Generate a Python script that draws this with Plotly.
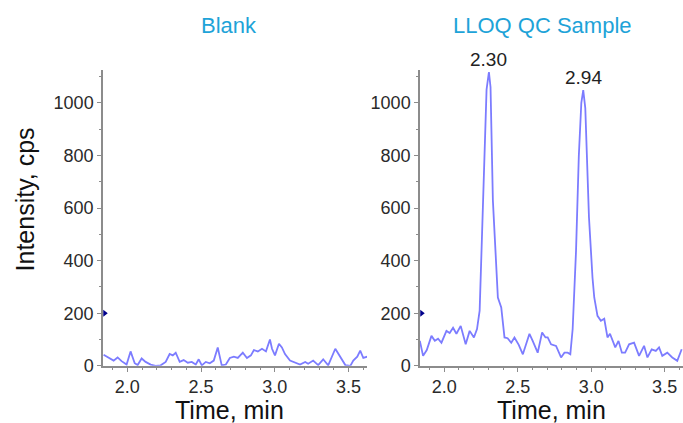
import plotly.graph_objects as go

# ---- data ----
blank_time = [1.839, 1.873, 1.907, 1.934, 1.961, 1.995, 2.022, 2.050, 2.070, 2.097,
              2.124, 2.158, 2.192, 2.226, 2.260, 2.287, 2.308, 2.328, 2.355, 2.382,
              2.410, 2.437, 2.464, 2.484, 2.505, 2.532, 2.559, 2.586, 2.613, 2.640,
              2.668, 2.695, 2.722, 2.749, 2.783, 2.811, 2.838, 2.858, 2.885, 2.913,
              2.940, 2.967, 2.981, 3.001, 3.028, 3.048, 3.069, 3.103, 3.144, 3.171,
              3.206, 3.226, 3.260, 3.294, 3.328, 3.362, 3.410, 3.444, 3.478, 3.512,
              3.532, 3.559, 3.579, 3.600, 3.627]
blank_int = [42, 30, 20, 32, 18, 5, 55, 10, 3, 28,
             15, 5, 0, 2, 15, 45, 40, 50, 15, 22,
             12, 15, 5, 25, 2, 15, 10, 20, 70, 2,
             5, 30, 35, 30, 50, 30, 40, 60, 55, 65,
             55, 100, 65, 40, 84, 70, 45, 20, 12, 5,
             15, 8, 20, 3, 25, 2, 65, 35, 3, 0,
             20, 35, 58, 30, 35]

lloq_time = [1.834, 1.856, 1.881, 1.913, 1.936, 1.958, 1.981, 2.015, 2.037, 2.060,
             2.083, 2.112, 2.146, 2.173, 2.202, 2.223, 2.241, 2.254, 2.271, 2.288,
             2.304, 2.315, 2.331, 2.354, 2.365, 2.388, 2.410, 2.431, 2.456, 2.478,
             2.507, 2.535, 2.580, 2.602, 2.636, 2.666, 2.689, 2.704, 2.727, 2.761,
             2.795, 2.818, 2.840, 2.858, 2.874, 2.897, 2.916, 2.933, 2.946, 2.960,
             2.973, 2.985, 3.009, 3.021, 3.043, 3.066, 3.089, 3.111, 3.128, 3.145,
             3.164, 3.186, 3.209, 3.231, 3.258, 3.292, 3.326, 3.360, 3.383, 3.412,
             3.440, 3.462, 3.484, 3.518, 3.552, 3.586, 3.616]
lloq_int = [95, 38, 60, 114, 95, 103, 88, 133, 125, 145,
            122, 152, 82, 133, 108, 140, 210, 450, 800, 1050,
            1117, 1060, 629, 374, 260, 222, 108, 105, 88, 108,
            80, 44, 122, 95, 50, 127, 108, 108, 82, 76,
            32, 50, 50, 44, 140, 438, 800, 1000, 1048, 980,
            800, 565, 336, 260, 190, 171, 179, 108, 122, 95,
            70, 95, 50, 50, 82, 88, 38, 76, 32, 63,
            57, 70, 38, 50, 32, 19, 63]

panel_titles = ["Blank", "LLOQ QC Sample"]
peak_labels = ["2.30", "2.94"]
peak_times = [2.304, 2.946]
peak_heights = [1117, 1048]
x_ticks = [2.0, 2.5, 3.0, 3.5]
y_ticks = [0, 200, 400, 600, 800, 1000]

W, H = 683, 423
FIG_H = 434
FONT = "Liberation Sans, Arial, sans-serif"
LINE = "#7C7CFF"
XR = [1.835, 3.625]
YR = [0, 1124]

fig = go.Figure()
fig.add_trace(go.Scatter(x=blank_time, y=blank_int, mode="lines",
                         line=dict(color=LINE, width=1.8), xaxis="x", yaxis="y",
                         showlegend=False, hoverinfo="skip"))
fig.add_trace(go.Scatter(x=lloq_time, y=lloq_int, mode="lines",
                         line=dict(color=LINE, width=1.8), xaxis="x2", yaxis="y2",
                         showlegend=False, hoverinfo="skip"))
# small marker triangles on the y axes at 200
for xa, ya in (("x", "y"), ("x2", "y2")):
    fig.add_trace(go.Scatter(x=[XR[0] + 0.012], y=[200], mode="markers",
                             marker=dict(symbol="triangle-right", size=6, color="#00008B"),
                             xaxis=xa, yaxis=ya, showlegend=False, hoverinfo="skip",
                             cliponaxis=False))

ax_common = dict(showline=True, linecolor="#8C8C8C", linewidth=1.5, showgrid=False,
                 zeroline=False, ticks="outside", ticklen=4, tickcolor="#8C8C8C",
                 tickfont=dict(family=FONT, size=18, color="#2A2A2A"))
y_dom = [1 - 365 / H, 1 - 70 / H]
fig.update_layout(
    width=W, height=FIG_H, margin=dict(l=0, r=0, t=0, b=0),
    paper_bgcolor="white", plot_bgcolor="white",
    xaxis=dict(domain=[103 / W, 367 / W], range=XR, tickvals=x_ticks,
               ticktext=[f"{v:.1f}" for v in x_ticks],
               minor=dict(dtick=0.1, ticks="outside", ticklen=2, tickcolor="#8C8C8C"),
               anchor="y", **ax_common),
    yaxis=dict(domain=y_dom, range=YR, tickvals=y_ticks,
               minor=dict(dtick=100, ticks="outside", ticklen=2, tickcolor="#8C8C8C"),
               anchor="x", **ax_common),
    xaxis2=dict(domain=[420 / W, 1.0], range=XR, tickvals=x_ticks,
                ticktext=[f"{v:.1f}" for v in x_ticks],
                minor=dict(dtick=0.1, ticks="outside", ticklen=2, tickcolor="#8C8C8C"),
                anchor="y2", **ax_common),
    yaxis2=dict(domain=y_dom, range=YR, tickvals=y_ticks,
                minor=dict(dtick=100, ticks="outside", ticklen=2, tickcolor="#8C8C8C"),
                anchor="x2", **ax_common),
)

ann = []
title_x = [228.7, 542.5]
for t, xc in zip(panel_titles, title_x):
    ann.append(dict(text=t, x=xc / W, y=1 - 25 / H, xref="paper", yref="paper",
                    xanchor="center", yanchor="middle", showarrow=False,
                    font=dict(family=FONT, size=22, color="#1EA3D8")))
for xc in (229, 551):
    ann.append(dict(text="Time, min", x=xc / W, y=1 - 409 / H, xref="paper", yref="paper",
                    xanchor="center", yanchor="middle", showarrow=False,
                    font=dict(family=FONT, size=25, color="#111111")))
ann.append(dict(text="Intensity, cps", x=25 / W, y=1 - 199 / H, xref="paper", yref="paper",
                xanchor="center", yanchor="middle", showarrow=False, textangle=-90,
                font=dict(family=FONT, size=25, color="#111111")))
for lab, pt, ph in zip(peak_labels, peak_times, peak_heights):
    ann.append(dict(text=lab, x=pt, y=ph, xref="x2", yref="y2", xanchor="center",
                    yanchor="bottom", showarrow=False, yshift=0,
                    font=dict(family=FONT, size=19, color="#222222")))
fig.update_layout(annotations=ann)

fig.write_html("out.html", config={"displayModeBar": False, "responsive": False},
               post_script="document.body.style.margin='0px';document.body.style.overflow='hidden';")
